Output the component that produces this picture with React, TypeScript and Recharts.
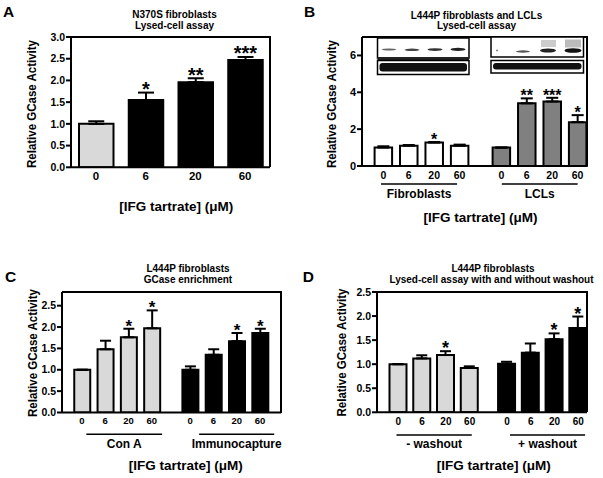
import React from 'react'
import { BarChart, Bar, XAxis, YAxis, ErrorBar, Cell, LabelList, ReferenceLine } from 'recharts'

const FONT = 'Arial, "Liberation Sans", Helvetica, sans-serif'
const BLACK = '#000'
const LIGHT = '#d9d9d9'
const MID = '#808080'
const WHITE = '#fff'

const doses = ['0', '6', '20', '60']

// A - N370S fibroblasts, lysed-cell assay
const aMean = [1.0, 1.55, 1.96, 2.47]
const aSem = [0.06, 0.17, 0.09, 0.07]
const aStars = ['', '*', '**', '***']
const aYTicks = [0, 0.5, 1, 1.5, 2, 2.5, 3]

// B - L444P fibroblasts and LCLs
const bFibMean = [1.0, 1.1, 1.27, 1.1]
const bFibSem = [0.07, 0.04, 0.03, 0.06]
const bFibStars = ['', '', '*', '']
const bLclMean = [1.0, 3.4, 3.5, 2.38]
const bLclSem = [0, 0.27, 0.2, 0.38]
const bLclStars = ['', '**', '***', '*']
const bYTicks = [0, 2, 4, 6]

// C - GCase enrichment
const cConMean = [1.0, 1.48, 1.76, 1.97]
const cConSem = [0, 0.2, 0.2, 0.42]
const cConStars = ['', '', '*', '*']
const cImmMean = [1.0, 1.35, 1.67, 1.86]
const cImmSem = [0.08, 0.13, 0.19, 0.1]
const cImmStars = ['', '', '*', '*']
const cYTicks = [0, 0.5, 1, 1.5, 2, 2.5]

// D - with and without washout
const dNoMean = [1.0, 1.12, 1.19, 0.92]
const dNoSem = [0, 0.065, 0.08, 0.035]
const dNoStars = ['', '', '*', '']
const dWashMean = [1.01, 1.24, 1.52, 1.75]
const dWashSem = [0.04, 0.19, 0.12, 0.24]
const dWashStars = ['', '', '*', '*']
const dYTicks = [0, 0.5, 1, 1.5, 2, 2.5]

type Group = { mean: number[]; sem: number[]; stars: string[]; fill: string | string[] }
type Row = { pos: number; dose: string; mean: number; sem: number; range: number[]; star: string; fill: string }

function makeRows(groups: Group[], step: number): Row[] {
  const out: Row[] = []
  groups.forEach((g, gi) => {
    g.mean.forEach((m, i) => {
      out.push({
        pos: gi * step + i,
        dose: doses[i],
        mean: m,
        sem: g.sem[i],
        range: [0, g.sem[i]],
        star: g.stars[i],
        fill: Array.isArray(g.fill) ? g.fill[i] : g.fill,
      })
    })
  })
  return out
}

const aRows = makeRows([{ mean: aMean, sem: aSem, stars: aStars, fill: [LIGHT, BLACK, BLACK, BLACK] }], 0)
const bRows = makeRows([
  { mean: bFibMean, sem: bFibSem, stars: bFibStars, fill: WHITE },
  { mean: bLclMean, sem: bLclSem, stars: bLclStars, fill: MID },
], 4.64)
const cRows = makeRows([
  { mean: cConMean, sem: cConSem, stars: cConStars, fill: LIGHT },
  { mean: cImmMean, sem: cImmSem, stars: cImmStars, fill: BLACK },
], 4.64)
const dRows = makeRows([
  { mean: dNoMean, sem: dNoSem, stars: dNoStars, fill: LIGHT },
  { mean: dWashMean, sem: dWashSem, stars: dWashStars, fill: BLACK },
], 4.57)

type Box = { l: number; t: number; r: number; b: number }
const plotA: Box = { l: 71, t: 37, r: 270, b: 167.3 }
const plotB: Box = { l: 361.7, t: 37, r: 587.5, b: 166 }
const plotC: Box = { l: 62.3, t: 292, r: 281.5, b: 412.5 }
const plotD: Box = { l: 377.3, t: 292, r: 587.3, b: 412.3 }

type Under = { x1: number; x2: number; label: string }

type PanelProps = {
  rows: Row[]
  plot: Box
  xDomain: [number, number]
  yDomain: [number, number]
  yTicks: number[]
  yFmt: (v: number) => string
  barSize: number
  errHalf: number
  starSize: number
  xFont: number
  yFont: number
  xMargin: number
  under?: Under[]
  underY?: number
}

const axisStyle = { stroke: BLACK, strokeWidth: 2 }

function Panel(p: PanelProps) {
  const padL = 60, padT = 12, padR = 14, padB = 56
  const YW = 40, XH = 20
  const w = p.plot.r - p.plot.l + padL + padR
  const h = p.plot.b - p.plot.t + padT + padB

  const star = (props: any) => {
    const vb = props.viewBox ?? {}
    const x = props.x ?? vb.x
    const y = props.y ?? vb.y
    const width = props.width ?? vb.width
    const height = props.height ?? vb.height
    const row = p.rows[props.index]
    if (!row || !row.star) return null
    const capY = y - (row.sem / row.mean) * height
    return (
      <text x={x + width / 2} y={capY + p.starSize * 0.17} textAnchor="middle" fontSize={p.starSize}
        fontWeight="bold" fontFamily={FONT} fill={BLACK}>{row.star}</text>
    )
  }

  const tickFont = (size: number) => ({ fill: BLACK, fontSize: size, fontWeight: 'bold', fontFamily: FONT })

  return (
    <div style={{ position: 'absolute', left: p.plot.l - padL, top: p.plot.t - padT }}>
      <BarChart width={w} height={h} data={p.rows}
        margin={{ top: padT, right: padR, bottom: padB - XH, left: padL - YW }}>
        <XAxis type="number" dataKey="pos" domain={p.xDomain} allowDataOverflow ticks={p.rows.map((r) => r.pos)}
          tickFormatter={(v: number) => p.rows.find((r) => Math.abs(r.pos - v) < 1e-6)?.dose ?? ''}
          interval={0} tickLine={false} tickSize={0} tickMargin={p.xMargin} axisLine={axisStyle} height={XH}
          tick={tickFont(p.xFont)} />
        <YAxis domain={p.yDomain} ticks={p.yTicks} tickFormatter={p.yFmt} allowDataOverflow interval={0} width={YW}
          tickSize={5} tickMargin={1} tickLine={axisStyle} axisLine={axisStyle} tick={tickFont(p.yFont)} />
        <Bar dataKey="mean" barSize={p.barSize} stroke={BLACK} strokeWidth={2} isAnimationActive={false}>
          {p.rows.map((r, i) => (
            <Cell key={i} fill={r.fill} />
          ))}
          <ErrorBar dataKey="range" direction="y" width={p.errHalf} stroke={BLACK} strokeWidth={2} isAnimationActive={false} />
          <LabelList dataKey="star" content={star} />
        </Bar>
        {(p.under ?? []).map((u) => (
          <ReferenceLine key={u.label} segment={[{ x: u.x1, y: p.underY }, { x: u.x2, y: p.underY }]}
            stroke={BLACK} strokeWidth={1.5} ifOverflow="visible"
            label={{ value: u.label, position: 'bottom', offset: 5, fill: BLACK, fontSize: 12, fontWeight: 'bold', fontFamily: FONT }} />
        ))}
      </BarChart>
      {/* top and right edges of the plot box */}
      <div style={{
        position: 'absolute', left: padL, top: padT - 1, width: p.plot.r - p.plot.l + 1, height: p.plot.b - p.plot.t + 1,
        borderTop: '2px solid #000', borderRight: '2px solid #000', boxSizing: 'border-box', pointerEvents: 'none',
      }} />
    </div>
  )
}

const fmt1 = (v: number) => v.toFixed(1)
const fmt0 = (v: number) => String(v)

function Txt(props: { x: number; y: number; size: number; children: React.ReactNode; anchor?: string; len?: number }) {
  return (
    <text x={props.x} y={props.y} fontSize={props.size} fontWeight="bold" fontFamily={FONT} fill={BLACK}
      textAnchor={props.anchor ?? 'middle'} textLength={props.len} lengthAdjust={props.len ? 'spacingAndGlyphs' : undefined}>
      {props.children}
    </text>
  )
}

function YLabel(props: { cx: number; cy: number }) {
  return (
    <text transform={`translate(${props.cx},${props.cy}) rotate(-90)`} x={0} y={4.3} fontSize={12.3} fontWeight="bold"
      fontFamily={FONT} fill={BLACK} textAnchor="middle" textLength={128} lengthAdjust="spacingAndGlyphs">
      Relative GCase Activity
    </text>
  )
}

function XTitle(props: { cx: number; base: number }) {
  return <Txt x={props.cx} y={props.base} size={13.5} len={114}>[IFG tartrate] (μM)</Txt>
}

function Blots() {
  return (
    <g>
      {/* fibroblast blot */}
      <rect x={377.5} y={38} width={91.5} height={20} fill={WHITE} stroke={BLACK} strokeWidth={1.5} />
      <ellipse cx={389} cy={49.5} rx={7} ry={1.1} fill="#666" />
      <ellipse cx={412} cy={49.8} rx={7.5} ry={1.3} fill="#444" />
      <ellipse cx={435} cy={49.6} rx={7.5} ry={1.4} fill="#333" />
      <ellipse cx={458} cy={49.4} rx={7.5} ry={1.6} fill="#222" />
      <rect x={377.5} y={57} width={91.5} height={3.5} fill="#222" />
      <rect x={377.5} y={60.5} width={91.5} height={14} fill={WHITE} stroke={BLACK} strokeWidth={1.5} />
      <rect x={379.5} y={63} width={87.5} height={8.5} rx={3} fill="#111" />
      {/* LCL blot */}
      <rect x={491} y={37} width={92.5} height={20} fill={WHITE} stroke={BLACK} strokeWidth={1.5} />
      <circle cx={497} cy={50.5} r={0.9} fill="#777" />
      <ellipse cx={523} cy={51.5} rx={7} ry={1.2} fill="#555" />
      <rect x={541} y={40} width={15} height={7} fill="#ccc" />
      <rect x={565} y={39.5} width={16} height={8} fill="#bbb" />
      <ellipse cx={548} cy={50.5} rx={8} ry={2} fill="#222" />
      <ellipse cx={573} cy={50.5} rx={8.5} ry={2.3} fill="#111" />
      <rect x={491} y={60.5} width={92.5} height={12.5} fill={WHITE} stroke={BLACK} strokeWidth={1.5} />
      <rect x={493} y={63} width={88.5} height={6.5} rx={3} fill="#111" />
    </g>
  )
}

export default function App() {
  return (
    <div style={{ position: 'fixed', left: 0, top: 0, width: 603, height: 478, background: WHITE, overflow: 'hidden' }}>
      <Panel rows={aRows} plot={plotA} xDomain={[-0.5, 3.5]}
        yDomain={[0, 3]} yTicks={aYTicks} yFmt={fmt1} barSize={34.5} errHalf={8} starSize={20} xFont={11.5} yFont={10.5}
        xMargin={4.5} />
      <Panel rows={bRows} plot={plotB} xDomain={[-0.838, 8.04]}
        yDomain={[0, 7]} yTicks={bYTicks} yFmt={fmt0} barSize={17.5} errHalf={6} starSize={16} xFont={10.5} yFont={11}
        xMargin={5.5} underY={-0.98}
        under={[{ x1: -0.09, x2: 2.9, label: 'Fibroblasts' }, { x1: 4.66, x2: 7.64, label: 'LCLs' }]} />
      <Panel rows={cRows} plot={plotC} xDomain={[-0.854, 8.55]}
        yDomain={[0, 2.82]} yTicks={cYTicks} yFmt={fmt1} barSize={16} errHalf={5.5} starSize={17} xFont={9.5} yFont={10.5}
        xMargin={5} underY={-0.51}
        under={[{ x1: 0.19, x2: 3.44, label: 'Con A' }, { x1: 5.03, x2: 8.25, label: 'Immunocapture' }]} />
      <Panel rows={dRows} plot={plotD} xDomain={[-0.9, 7.94]}
        yDomain={[0, 2.5]} yTicks={dYTicks} yFmt={fmt1} barSize={17} errHalf={5.5} starSize={18} xFont={10} yFont={10.5}
        xMargin={5.5} underY={-0.47}
        under={[{ x1: -0.08, x2: 3.09, label: '- washout' }, { x1: 4.7, x2: 7.86, label: '+ washout' }]} />
      <svg width={603} height={478} style={{ position: 'absolute', left: 0, top: 0, pointerEvents: 'none' }}>
        <Blots />
        <Txt x={3} y={17} size={15.5} anchor="start">A</Txt>
        <Txt x={304} y={17} size={15.5} anchor="start">B</Txt>
        <Txt x={5} y={281.7} size={15.5} anchor="start">C</Txt>
        <Txt x={302.7} y={281.7} size={15.5} anchor="start">D</Txt>

        <Txt x={174.5} y={17.9} size={10}>N370S fibroblasts</Txt>
        <Txt x={174.5} y={29.3} size={10}>Lysed-cell assay</Txt>
        <Txt x={476.5} y={18.6} size={10}>L444P fibroblasts and LCLs</Txt>
        <Txt x={476.5} y={28.6} size={10}>Lysed-cell assay</Txt>
        <Txt x={188} y={271.9} size={10}>L444P fibroblasts</Txt>
        <Txt x={188} y={282.9} size={10}>GCase enrichment</Txt>
        <Txt x={493} y={271.9} size={10}>L444P fibroblasts</Txt>
        <Txt x={491.5} y={282.6} size={10}>Lysed-cell assay with and without washout</Txt>

        <YLabel cx={32} cy={104} />
        <YLabel cx={331.7} cy={104} />
        <YLabel cx={32.3} cy={353} />
        <YLabel cx={341.7} cy={352.5} />

        <XTitle cx={176.2} base={211} />
        <XTitle cx={480.5} base={221.7} />
        <XTitle cx={185.8} base={470} />
        <XTitle cx={493.7} base={470} />
      </svg>
    </div>
  )
}
